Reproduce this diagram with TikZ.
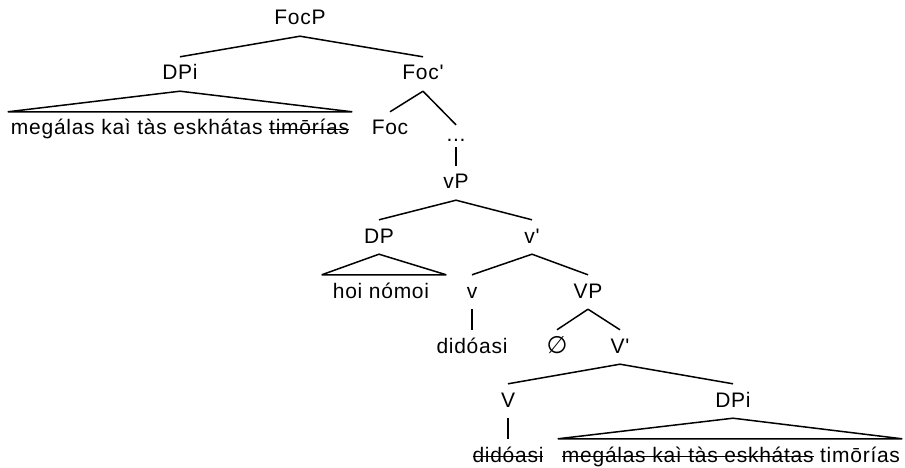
\documentclass[tikz,border=0pt]{standalone}
\usepackage{fontspec}
\setmainfont{Liberation Sans}[Ligatures=TeXOff]
\newfontfamily\labfont{Liberation Sans}[Ligatures=TeXOff, LetterSpace=3.5]
\newfontfamily\symfont{DejaVu Sans}
\usetikzlibrary{calc}
\newcommand{\mystrike}[1]{\setbox0\hbox{#1}\rlap{\rule[0.45ex]{\wd0}{1.3pt}}\box0\relax}
\begin{document}
\begin{tikzpicture}[x=1pt,y=-1pt,
  lab/.style={anchor=base, font=\labfont\fontsize{21}{25}\selectfont, text height=12pt, text depth=0pt, inner ysep=11pt, inner xsep=2pt},
  edge/.style={line width=1.5pt, line join=bevel},
]
\useasboundingbox (0,0) rectangle (905,468);
% nodes
\node[lab] (focp) at (300,25) {FocP};
\node[lab] (dpi1) at (180,80) {DPi};
\node[lab] (focbar) at (423,80) {Foc'};
\node[lab] (leaf1) at (180,135) {megálas kaì tàs eskhátas \mystrike{timōrías}};
\node[lab] (foc) at (390,135) {Foc};
\node[lab, inner ysep=5pt] (dots) at (456,142) {...};
\node[lab] (vp) at (456,189) {vP};
\node[lab] (dp) at (379,243) {DP};
\node[lab] (vbar) at (532,243) {v'};
\node[lab] (hoi) at (381,298) {hoi nómoi};
\node[lab] (v) at (472,298) {v};
\node[lab] (VP) at (588,298) {VP};
\node[lab] (did1) at (472,353) {didóasi};
\node[lab, font=\symfont\fontsize{24}{28}\selectfont] (empty) at (557,353) {∅};
\node[lab] (Vbar) at (620,353) {V'};
\node[lab] (V) at (508,407) {V};
\node[lab] (dpi2) at (733,407) {DPi};
\node[lab] (did2) at (508,462) {\mystrike{didóasi}};
\node[lab] (leaf2) at (731,462) {\mystrike{megálas kaì tàs eskhátas} timōrías};
% edges
\draw[edge] (focp.south) -- (dpi1.north);
\draw[edge] (focp.south) -- (focbar.north);
\draw[edge] ([xshift=-1pt]leaf1.north west) -- (dpi1.south) -- ([xshift=1pt]leaf1.north east) -- cycle;
\draw[edge] (focbar.south) -- (foc.north);
\draw[edge] (focbar.south) -- (dots.north);
\draw[edge] (dots.south) -- (vp.north);
\draw[edge] (vp.south) -- (dp.north);
\draw[edge] (vp.south) -- (vbar.north);
\draw[edge] ([xshift=-9pt]hoi.north west) -- (dp.south) -- ([xshift=15pt]hoi.north east) -- cycle;
\draw[edge] (vbar.south) -- (v.north);
\draw[edge] (vbar.south) -- (VP.north);
\draw[edge] (v.south) -- (did1.north);
\draw[edge] (VP.south) -- (empty.north);
\draw[edge] (VP.south) -- (Vbar.north);
\draw[edge] (Vbar.south) -- (V.north);
\draw[edge] (Vbar.south) -- (dpi2.north);
\draw[edge] (V.south) -- (did2.north);
\draw[edge] ([xshift=-2pt]leaf2.north west) -- (dpi2.south) -- ([xshift=0pt]leaf2.north east) -- cycle;
\end{tikzpicture}
\end{document}
